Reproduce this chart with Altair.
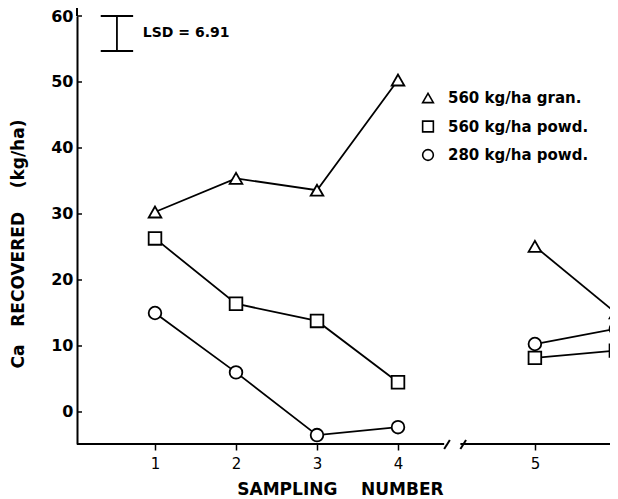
import altair as alt
import pandas as pd

# ---- data ----
sampling = [1, 2, 3, 4, 5, 6]
gran560 = [30.3, 35.4, 33.6, 50.3, 25.1, 15.0]
powd560 = [26.3, 16.4, 13.8, 4.5, 8.2, 9.3]
powd280 = [15.0, 6.0, -3.5, -2.3, 10.3, 12.6]
series_names = ["560 kg/ha gran.", "560 kg/ha powd.", "280 kg/ha powd."]
series_shapes = ["triangle-up", "square", "circle"]
y_tick_values = [0, 10, 20, 30, 40, 50, 60]
lsd_label = "LSD = 6.91"
lsd_top, lsd_bottom = 60.0, 54.7
NB = "\u00a0"
y_title = "Ca" + NB * 3 + "RECOVERED" + NB * 4 + "(kg/ha)"
x_title = "SAMPLING" + NB * 4 + "NUMBER"

# layout helpers (axis break between samplings 4 and 5)
break_gap = 0.69
W, H = 533, 428
x_lo = 0.037
x_hi = x_lo + W / 81.0
y_lo, y_hi = -4.85, 60.0
FONT = "DejaVu Sans"

rows = []
for name, vals in zip(series_names, [gran560, powd560, powd280]):
    for n, v in zip(sampling, vals):
        seg = "a" if n <= 4 else "b"
        rows.append({"series": name, "n": n,
                     "pos": n if n <= 4 else n + break_gap,
                     "grp": name + seg, "value": v})
df = pd.DataFrame(rows)

x_scale = alt.Scale(domain=[x_lo, x_hi], nice=False, zero=False)
y_scale = alt.Scale(domain=[y_lo, y_hi], nice=False, zero=False)
tick_pos = [n if n <= 4 else n + break_gap for n in sampling]

base = alt.Chart(df)

x_enc = alt.X("pos:Q", scale=x_scale, title=x_title,
              axis=alt.Axis(values=tick_pos, grid=False, domain=False,
                            labelExpr="datum.value > 4.5 ? format(datum.value - 0.69, '.0f') : format(datum.value, '.0f')",
                            tickColor="black", tickSize=6, tickWidth=1.5,
                            labelFont=FONT, labelFontSize=15, labelColor="black",
                            labelPadding=6,
                            titleFont=FONT, titleFontSize=17, titleFontWeight="bold",
                            titleColor="black", titlePadding=10, titleX=263))
y_enc = alt.Y("value:Q", scale=y_scale, title=None,
              axis=alt.Axis(values=y_tick_values, grid=False, ticks=False,
                            domainColor="black", domainWidth=2,
                            labelFont=FONT, labelFontSize=16, labelFontWeight="bold",
                            labelColor="black", labelPadding=4))

lines = base.mark_line(color="black", strokeWidth=1.8).encode(
    x=x_enc, y=y_enc, detail="grp:N", order="n:Q")

points = base.mark_point(filled=True, fill="white", stroke="black",
                         strokeWidth=1.8, size=160, opacity=1).encode(
    x="pos:Q", y="value:Q",
    shape=alt.Shape("series:N",
                    scale=alt.Scale(domain=series_names, range=series_shapes),
                    legend=None))

# manual legend (upper right)
legend_layers = []
for i, (name, shp) in enumerate(zip(series_names, series_shapes)):
    ly = 82 + i * 28.5
    legend_layers.append(
        alt.Chart(pd.DataFrame({"s": [name]})).mark_point(
            shape=shp, filled=True, fill="white", stroke="black",
            strokeWidth=1.6, size=115, opacity=1).encode(
            x=alt.value(351), y=alt.value(ly)))
    legend_layers.append(
        alt.Chart(pd.DataFrame({"s": [name]})).mark_text(
            align="left", baseline="middle", font=FONT, fontSize=15,
            fontWeight="bold", color="black").encode(
            x=alt.value(371), y=alt.value(ly), text="s:N"))

# inward y ticks
ytick_df = pd.DataFrame({"v": y_tick_values})
yticks = alt.Chart(ytick_df).mark_rule(color="black", strokeWidth=1.5).encode(
    y=alt.Y("v:Q", scale=y_scale), x=alt.value(0), x2=alt.value(5))

# y axis line continues a little above the top tick
ytop = alt.Chart(pd.DataFrame({"v": [0]})).mark_rule(color="black", strokeWidth=2).encode(
    x=alt.value(0), y=alt.value(-10), y2=alt.value(0))

# broken x axis line
axis_df = pd.DataFrame({"a": [x_lo, 4.77], "b": [4.57, x_hi]})
xaxis = alt.Chart(axis_df).mark_rule(color="black", strokeWidth=2).encode(
    x=alt.X("a:Q", scale=x_scale), x2="b:Q", y=alt.value(H))
brk_df = pd.DataFrame({"a": [4.57, 4.77], "b": [4.64, 4.84]})
breaks = alt.Chart(brk_df).mark_rule(color="black", strokeWidth=2).encode(
    x=alt.X("a:Q", scale=x_scale), x2="b:Q", y=alt.value(H + 5), y2=alt.value(H - 4))

# LSD bar
lsd_df = pd.DataFrame({"x": [0.53], "lo": [lsd_bottom], "hi": [lsd_top],
                       "xl": [0.33], "xr": [0.73], "tx": [0.85],
                       "ty": [(lsd_top + lsd_bottom) / 2], "label": [lsd_label]})
lsd_v = alt.Chart(lsd_df).mark_rule(color="black", strokeWidth=1.8).encode(
    x=alt.X("x:Q", scale=x_scale), y=alt.Y("lo:Q", scale=y_scale), y2="hi:Q")
lsd_c1 = alt.Chart(lsd_df).mark_rule(color="black", strokeWidth=1.8).encode(
    x=alt.X("xl:Q", scale=x_scale), x2="xr:Q", y=alt.Y("lo:Q", scale=y_scale))
lsd_c2 = alt.Chart(lsd_df).mark_rule(color="black", strokeWidth=1.8).encode(
    x=alt.X("xl:Q", scale=x_scale), x2="xr:Q", y=alt.Y("hi:Q", scale=y_scale))
lsd_t = alt.Chart(lsd_df).mark_text(align="left", baseline="middle", font=FONT,
                                    fontSize=14, fontWeight="bold", color="black").encode(
    x=alt.X("tx:Q", scale=x_scale), y=alt.Y("ty:Q", scale=y_scale), text="label:N")

# y title
yt_df = pd.DataFrame({"t": [y_title]})
ytitle = alt.Chart(yt_df).mark_text(angle=270, align="center", baseline="middle",
                                    font=FONT, fontSize=17, fontWeight="bold",
                                    color="black").encode(
    x=alt.value(-58), y=alt.value(228), text="t:N")

chart = alt.layer(lines, points, yticks, ytop, xaxis, breaks,
                  lsd_v, lsd_c1, lsd_c2, lsd_t, ytitle, *legend_layers).properties(
    width=W, height=H,
    padding={"left": 69, "top": 8, "right": 0, "bottom": 55},
    autosize=alt.AutoSizeParams(type="none"),
    background="white",
).configure_view(stroke=None)

chart.save("out.html", embed_options={"renderer": "svg", "actions": False})
